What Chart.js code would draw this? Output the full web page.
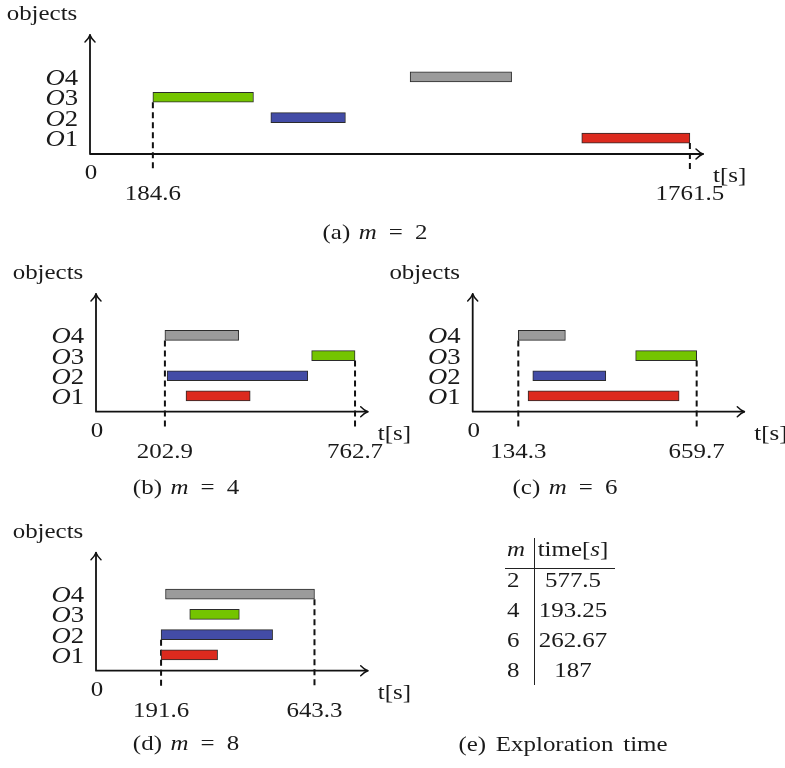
<!DOCTYPE html>
<html>
<head>
<meta charset="utf-8">
<script src="https://cdn.jsdelivr.net/npm/chart.js@4/dist/chart.umd.min.js"></script>
<style>
  html, body { margin: 0; padding: 0; background: #fff; }
  #wrap { position: relative; width: 785px; height: 768px; overflow: hidden; background: #fff; }
  canvas.layer { position: absolute; left: 0; top: 0; }
  .txt { position: absolute; white-space: nowrap; font-family: "Liberation Serif", serif; color: #1a1a1a; line-height: 1; }
  .line { position: absolute; background: #222; }
</style>
</head>
<body>
<div id="wrap">
  <canvas id="cA" class="layer" width="785" height="768"></canvas>
  <canvas id="cB" class="layer" width="785" height="768"></canvas>
  <canvas id="cC" class="layer" width="785" height="768"></canvas>
  <canvas id="cD" class="layer" width="785" height="768"></canvas>
</div>
<script>
// ---------------- data ----------------
const objectLabels = ['O1', 'O2', 'O3', 'O4'];
const objectRows   = [1, 2, 3, 4];

// (a) m = 2
const startA = [1444, 531, 184.6, 940];
const endA   = [1761.5, 750, 480, 1238];
const marksA = [184.6, 1761.5];
const markRowsA = [3, 1];

// (b) m = 4
const startB = [265, 209.5, 635, 202.9];
const endB   = [454, 623.5, 762.7, 420];
const marksB = [202.9, 762.7];
const markRowsB = [4, 3];

// (c) m = 6
const startC = [163, 177, 480, 134.3];
const endC   = [608, 392, 659.7, 273];
const marksC = [134.3, 659.7];
const markRowsC = [4, 3];

// (d) m = 8
const startD = [191.6, 191.6, 276, 204.7];
const endD   = [358, 520, 422, 643.3];
const marksD = [191.6, 643.3];
const markRowsD = [2, 4];

// (e) table
const mValues   = [2, 4, 6, 8];
const timeValues = ['577.5', '193.25', '262.67', '187'];

// ---------------- styles ----------------
const barColors = ['#dc2a1e', '#434ca6', '#74c400', '#9b9b9b'];
const FONT = '"Liberation Serif", serif';
const SX = 1.16;
const INK = '#1a1a1a';

function drawRuns(ctx, parts, x, y, align, size) {
  ctx.save();
  const widths = parts.map(p => {
    ctx.font = (p[1] ? 'italic ' : '') + size + 'px ' + FONT;
    return ctx.measureText(p[0]).width;
  });
  const total = widths.reduce((s, w) => s + w, 0) * SX;
  const start = align === 'center' ? x - total / 2 : align === 'right' ? x - total : x;
  ctx.translate(start, y);
  ctx.scale(SX, 1);
  ctx.fillStyle = INK;
  ctx.textAlign = 'left';
  ctx.textBaseline = 'alphabetic';
  let cx = 0;
  parts.forEach((p, i) => {
    ctx.font = (p[1] ? 'italic ' : '') + size + 'px ' + FONT;
    ctx.fillText(p[0], cx, 0);
    cx += widths[i];
  });
  ctx.restore();
}

function makePlugin(marks, markRows) {
  return {
    id: 'ganttAxes',
    beforeDatasetsDraw(chart) {
      const { ctx, chartArea: a, scales: { x, y } } = chart;
      ctx.save();
      ctx.setLineDash([6, 4]);
      ctx.lineWidth = 2;
      ctx.strokeStyle = '#111';
      marks.forEach((v, i) => {
        const px = x.getPixelForValue(v);
        const top = y.getPixelForValue(markRows[i]) + 5;
        ctx.beginPath();
        ctx.moveTo(px, top);
        ctx.lineTo(px, a.bottom + 18);
        ctx.stroke();
      });
      ctx.restore();
    },
    afterDatasetsDraw(chart) {
      const { ctx, chartArea: a, scales: { x, y } } = chart;
      ctx.save();
      ctx.strokeStyle = '#111';
      ctx.lineWidth = 1.8;
      ctx.lineCap = 'round';
      ctx.lineJoin = 'round';
      // axes
      ctx.beginPath();
      ctx.moveTo(a.left, a.top);
      ctx.lineTo(a.left, a.bottom);
      ctx.lineTo(a.right, a.bottom);
      ctx.stroke();
      // arrow heads
      ctx.lineWidth = 1.5;
      ctx.beginPath();
      ctx.moveTo(a.left - 5, a.top + 7);
      ctx.quadraticCurveTo(a.left - 1, a.top + 3, a.left, a.top);
      ctx.quadraticCurveTo(a.left + 1, a.top + 3, a.left + 5, a.top + 7);
      ctx.moveTo(a.right - 7, a.bottom - 5);
      ctx.quadraticCurveTo(a.right - 3, a.bottom - 1, a.right, a.bottom);
      ctx.quadraticCurveTo(a.right - 3, a.bottom + 1, a.right - 7, a.bottom + 5);
      ctx.stroke();
      ctx.restore();

      // y labels
      objectLabels.forEach((lab, i) => {
        const py = y.getPixelForValue(objectRows[i]);
        drawRuns(ctx, [[lab[0], true], [lab.slice(1), false]], a.left - 12, py + 8, 'right', 23);
      });
      // axis titles
      drawRuns(ctx, [['objects', false]], a.left - 48, a.top - 15, 'center', 21.5);
      drawRuns(ctx, [['t[s]', false]], a.right + 10, a.bottom + 28, 'left', 21.5);
      // x labels
      drawRuns(ctx, [['0', false]], x.getPixelForValue(0) + 1, a.bottom + 25, 'center', 21.5);
      marks.forEach(v => {
        drawRuns(ctx, [[String(v), false]], x.getPixelForValue(v), a.bottom + 46, 'center', 21.5);
      });
    }
  };
}

function makeChart(id, starts, ends, marks, markRows, xMax, pad) {
  const data = objectRows.map((r, i) => ({ x: [starts[i], ends[i]], y: r }));
  return new Chart(document.getElementById(id), {
    type: 'bar',
    data: {
      datasets: [{
        data: data,
        backgroundColor: barColors,
        borderColor: '#2b2b2b',
        borderWidth: 1,
        borderSkipped: false,
        barThickness: 10
      }]
    },
    options: {
      indexAxis: 'y',
      responsive: false,
      maintainAspectRatio: false,
      animation: false,
      events: [],
      layout: { padding: pad },
      plugins: { legend: { display: false }, tooltip: { enabled: false } },
      scales: {
        x: { type: 'linear', min: 0, max: xMax, display: false, offset: false },
        y: { type: 'linear', min: 0.22, max: 6.05, display: false, offset: false }
      }
    },
    plugins: [makePlugin(marks, markRows)]
  });
}

makeChart('cA', startA, endA, marksA, markRowsA, 1800, { left: 90, right: 82, top: 35, bottom: 614 });
makeChart('cB', startB, endB, marksB, markRowsB, 800, { left: 96, right: 417.3, top: 294, bottom: 356.3 });
makeChart('cC', startC, endC, marksC, markRowsC, 800, { left: 472.7, right: 40.7, top: 294, bottom: 356.3 });
makeChart('cD', startD, endD, marksD, markRowsD, 800, { left: 96, right: 417.3, top: 552.7, bottom: 97.3 });

// ---------------- HTML text: captions and table ----------------
const wrap = document.getElementById('wrap');
function addText(html, x, baseline, align, size, ws) {
  const d = document.createElement('div');
  d.className = 'txt';
  d.style.fontSize = size + 'px';
  d.style.wordSpacing = (ws || 0) + 'px';
  d.style.left = x + 'px';
  d.style.top = (baseline - 0.837 * size) + 'px';
  if (align === 'center') {
    d.style.transform = 'translateX(-50%) scaleX(' + SX + ')';
    d.style.transformOrigin = 'center';
  } else {
    d.style.transform = 'scaleX(' + SX + ')';
    d.style.transformOrigin = 'left';
  }
  d.innerHTML = html;
  wrap.appendChild(d);
}
function addLine(x, y, w, h) {
  const d = document.createElement('div');
  d.className = 'line';
  d.style.left = x + 'px'; d.style.top = y + 'px';
  d.style.width = w + 'px'; d.style.height = h + 'px';
  wrap.appendChild(d);
}

const captionLetters = ['a', 'b', 'c', 'd'];
const captionPos = [[375, 240], [186, 495], [565, 495], [186, 751]];
captionLetters.forEach((l, i) => {
  addText('(' + l + ') <i>m</i><span style="word-spacing:5px"> = </span>' + mValues[i], captionPos[i][0], captionPos[i][1], 'center', 21.5, 2);
});
addText('(e) Exploration time', 563, 752, 'center', 21.5, 3);

// table
addText('<i>m</i>', 507, 557, 'left', 21.5);
addText('time[<i>s</i>]', 573, 557, 'center', 21.5);
mValues.forEach((m, i) => {
  const base = 588 + i * 30;
  addText(String(m), 507, base, 'left', 21.5);
  addText(timeValues[i], 573, base, 'center', 21.5);
});
addLine(505, 567.5, 110, 1.2);
addLine(533.5, 538, 1.2, 147);
</script>
</body>
</html>
